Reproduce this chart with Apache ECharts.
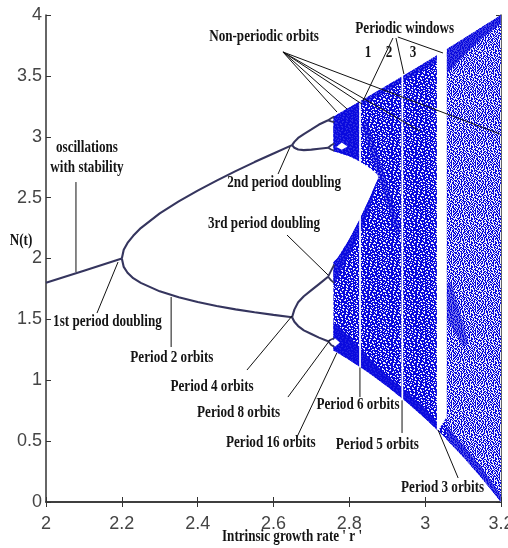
<!DOCTYPE html>
<html><head><meta charset="utf-8">
<script src="https://cdn.jsdelivr.net/npm/echarts@6/dist/echarts.min.js"></script>
<style>html,body{margin:0;padding:0;background:#fff}#c{width:508px;height:548px}</style>
</head><body><div id="c"></div>
<script>
// ---------------- data ----------------
const xTicks = [2, 2.2, 2.4, 2.6, 2.8, 3, 3.2];
const yTicks = [0, 0.5, 1, 1.5, 2, 2.5, 3, 3.5, 4];

// period 1
const period1R = [2.0, 2.1, 2.2];
const period1N = [1.8, 1.9, 2.0];
// period 2
const period2R     = [2.2, 2.205, 2.215, 2.23, 2.25, 2.3, 2.35, 2.4, 2.45, 2.5, 2.55, 2.6, 2.649];
const period2Upper = [2.0, 2.072, 2.128, 2.186, 2.25, 2.37, 2.469, 2.558, 2.64, 2.718, 2.792, 2.863, 2.931];
const period2Lower = [2.0, 1.931, 1.883, 1.838, 1.8, 1.73, 1.681, 1.642, 1.61, 1.582, 1.558, 1.537, 1.518];
// period 4
const period4R = [2.649, 2.655, 2.665, 2.68, 2.7, 2.72, 2.744];
const period4A = [2.931, 2.958, 2.99, 3.022, 3.06, 3.1, 3.135];
const period4B = [2.931, 2.91, 2.895, 2.89, 2.894, 2.902, 2.91];
const period4C = [1.518, 1.58, 1.64, 1.69, 1.74, 1.79, 1.85];
const period4D = [1.518, 1.48, 1.445, 1.41, 1.38, 1.35, 1.32];
// period 8
const period8R  = [2.744, 2.752, 2.76];
const period8A1 = [3.135, 3.152, 3.165];
const period8A2 = [3.135, 3.126, 3.12];
const period8B1 = [2.91, 2.93, 2.945];
const period8B2 = [2.91, 2.895, 2.885];
const period8C1 = [1.85, 1.9, 1.95];
const period8C2 = [1.85, 1.82, 1.80];
const period8D1 = [1.32, 1.335, 1.345];
const period8D2 = [1.32, 1.29, 1.275];

// chaotic band envelope
const chaosR      = [2.758, 2.77, 2.8, 2.85, 2.9, 2.95, 3.0, 3.05, 3.1, 3.15, 3.2];
const chaosTop    = [3.165, 3.186, 3.24, 3.331, 3.423, 3.516, 3.61, 3.706, 3.803, 3.901, 4.0];
const chaosBottom = [1.245, 1.223, 1.166, 1.064, 0.949, 0.824, 0.686, 0.535, 0.371, 0.193, 0.0];
// two-band region (white bay between the bands)
const bandR         = [2.758, 2.77, 2.8, 2.825, 2.85, 2.87, 2.8785];
const bandUpperLow  = [2.88, 2.87, 2.839, 2.801, 2.751, 2.702, 2.6785];
const bandLowerHigh = [1.97, 2.009, 2.161, 2.309, 2.473, 2.615, 2.6785];
// lighter chaotic part after the period-3 window
const lightR      = [3.057, 3.1, 3.15, 3.2];
const lightTop    = [3.72, 3.803, 3.901, 4.0];
const lightBottom = [0.512, 0.371, 0.193, 0.0];

// dense parts
const denseUpperBand = [[2.758,3.165],[2.77,3.186],[2.8,3.24],[2.826,3.288],[2.826,2.80],[2.8,2.839],[2.77,2.87],[2.758,2.88]];
const denseLowerTop  = [[2.758,1.97],[2.77,2.009],[2.8,2.161],[2.825,2.309],[2.85,2.473],[2.87,2.615],[2.8785,2.6785],[2.86,2.47],[2.835,2.25],[2.8,2.03],[2.78,1.92],[2.77,1.84],[2.758,1.78]];
const denseBottom    = [[2.758,1.245],[2.77,1.223],[2.8,1.166],[2.85,1.064],[2.9,0.949],[2.95,0.824],[3.0,0.686],[3.031,0.595],[3.031,0.66],[3.0,0.77],[2.95,0.91],[2.9,1.04],[2.85,1.19],[2.8,1.36],[2.77,1.45],[2.758,1.47]];
const denseBottomRight = [[3.057,0.512],[3.1,0.371],[3.15,0.193],[3.2,0.0],[3.2,0.06],[3.15,0.28],[3.1,0.47],[3.057,0.62]];
const denseTop       = [[2.826,3.288],[2.85,3.331],[2.9,3.423],[2.95,3.516],[3.0,3.61],[3.031,3.668],[3.031,3.61],[3.0,3.555],[2.95,3.465],[2.9,3.375],[2.85,3.285],[2.826,3.24]];
const denseTopRight  = [[3.057,3.72],[3.1,3.803],[3.15,3.901],[3.2,4.0],[3.2,3.93],[3.15,3.81],[3.1,3.66],[3.057,3.52]];
const denseStreak    = [[2.831,3.10],[2.845,3.14],[2.893,2.70],[2.935,2.22],[2.925,2.2],[2.879,2.64]];
const denseRightBlob = [[3.057,1.8],[3.07,1.8],[3.115,1.3],[3.1,1.28],[3.057,1.5]];

// periodic windows and period-8 gaps (white)
const window1 = [[2.826,1.09],[2.826,3.31],[2.8305,3.32],[2.8305,1.09]];
const window2 = [[2.9375,0.82],[2.9375,3.53],[2.942,3.54],[2.942,0.82]];
const window3 = [[3.031,3.70],[3.057,3.75],[3.057,0.70],[3.034,0.585],[3.031,0.60]];
const gapUpper = [[2.766,2.915],[2.78,2.952],[2.795,2.92],[2.78,2.893]];
const gapLower = [[2.752,1.31],[2.762,1.345],[2.775,1.31],[2.762,1.275]];

// annotations
const annotText = ['oscillations','with stability','1st period doubling','Period 2 orbits','2nd period doubling',
  '3rd period doubling','Period 4 orbits','Period 8 orbits','Period 16 orbits','Period 6 orbits','Period 5 orbits',
  'Period 3 orbits','Non-periodic orbits','Periodic windows','1','2','3',"Intrinsic growth rate ' r '",'N(t)'];
const annotR = [2.108,2.108,2.162,2.332,2.628,2.575,2.438,2.508,2.593,2.823,2.874,3.046,2.575,2.946,2.849,2.905,2.968,2.6488,1.934];
const annotN = [2.908,2.743,1.478,1.183,2.62,2.283,0.945,0.731,0.485,0.797,0.468,0.115,3.819,3.885,3.688,3.688,3.688,-0.287,2.144];

const leaders = [
  [2.079,2.628,2.079,1.889],
  [2.1345,1.552,2.19,1.971],
  [2.33,1.684,2.33,1.273],
  [2.6435,2.916,2.612,2.694],
  [2.6356,2.193,2.744,1.864],
  [2.530,1.084,2.649,1.528],
  [2.638,0.862,2.749,1.331],
  [2.662,0.534,2.767,1.224],
  [2.828,0.862,2.828,1.105],
  [2.939,0.567,2.939,0.835],
  [3.087,0.197,3.034,0.591],
  [2.625,3.696,2.7675,3.203],
  [2.625,3.696,2.794,3.228],
  [2.625,3.696,2.833,3.269],
  [2.625,3.696,2.986,3.047],
  [2.625,3.696,3.197,3.023],
  [2.915,3.811,2.836,3.294],
  [2.923,3.811,2.944,3.515],
  [2.928,3.819,3.047,3.688]
];

// ---------------- styles ----------------
const BLUE = '#0a0ade';
const tileDense = [
"..##......#....##.....#.","..#...##..##....#..##...","#.....#.......#.....#..#","##..#....##..###.......#",
"....##...#.......##..#..",".#.......#..#....#..##..",".##..##.....##.#.......#","......#..#...#....##....",
"..#.......##.....#.#..#.","..##..#...#..##.......##","#....##.......#...##....","#.#......#.#.....#....#.",
"...##...##.....#....#...",".#..#.......##.##...##..","...........#......#....#","##..#.##.....#.....##..#",
".#....#..##..##.#.......","...##......#......#.##..","#...#..#.......##....#..","..#....##..#.#......#..#",
".##.#.......#...#.#.....","......##..#....##...##..",".#.#...#..##.......#...#","#....#.....#..#.#....#.."];
const tileLight = [
"#.##.#..#.#.#.###..#.#.#",".##..##.###...#.##.##..#","#...###.#..##.#..#...###","##.#..#..##.###..#.#..#.",
"..#.##.#.#..#...###.##..",".##..#..##.##.#..#..##.#","#.#.###..#..##.##.#...##","..##..#.#.#..#..#.###..#",
"#.#..#..##.###.#..#.#.#.",".##.#.#...#..##.##...##.","#...##.#.#.#..#.#.##..#.","#.##..#..#.##..#.#..#.##",
".#.##.#.##..#.#..#.#.#..",".#..#..#..#.##.##..##.#.","#.#.#.##.#.#..#..#.#..##","##..#.##..#..#.#..##..#.",
".#.#..#..##..##.#.#.#..#","#..##.#.#..#.#..#.#.##..","#.#.#..#.#..#.##.#..#.#.","..#..#.##.##.#.#..#.#..#",
".##.#..#.#..#...#.#.#.#.","#..#..##..#.#.##.#..##..",".#.#.#.#.###..#...#.#..#","#..#.#..#..#..#.#.#.#.#."];
function makeTile(rows){
  const n = rows.length;
  const c=document.createElement('canvas'); c.width=n; c.height=n;
  const g=c.getContext('2d'); g.fillStyle=BLUE; g.fillRect(0,0,n,n);
  g.fillStyle='#eeeef8';
  rows.forEach((row,y)=>{for(let x=0;x<row.length;x++) if(row[x]==='#') g.fillRect(x,y,1,1);});
  return {image:c, repeat:'repeat'};
}
const patDense = makeTile(tileDense);
const patLight = makeTile(tileLight);

const pair = (rs, ns) => rs.map((r,i)=>[r, ns[i]]);
const chaosOutline = [
  ...pair(chaosR, chaosTop),
  ...pair(chaosR, chaosBottom).reverse(),
  ...pair(bandR, bandLowerHigh),
  ...pair(bandR, bandUpperLow).reverse().slice(1)
];
const lightOutline = [...pair(lightR, lightTop), ...pair(lightR, lightBottom).reverse()];

const polys = [
  {pts: chaosOutline, fill: patDense, op: 1},
  {pts: lightOutline, fill: patLight, op: 1},
  {pts: denseUpperBand, fill: BLUE, op: 0.85},
  {pts: denseLowerTop, fill: BLUE, op: 0.8},
  {pts: denseBottom, fill: BLUE, op: 0.9},
  {pts: denseBottomRight, fill: BLUE, op: 0.7},
  {pts: denseTop, fill: BLUE, op: 0.7},
  {pts: denseTopRight, fill: BLUE, op: 0.75},
  {pts: denseStreak, fill: BLUE, op: 0.5},
  {pts: denseRightBlob, fill: BLUE, op: 0.5},
  {pts: window1, fill: '#fff', op: 1},
  {pts: window2, fill: '#fff', op: 1},
  {pts: window3, fill: '#fff', op: 1},
  {pts: gapUpper, fill: '#fff', op: 1},
  {pts: gapLower, fill: '#fff', op: 1}
];

const branchLines = [
  [period1R, period1N], [period2R, period2Upper], [period2R, period2Lower],
  [period4R, period4A], [period4R, period4B], [period4R, period4C], [period4R, period4D],
  [period8R, period8A1], [period8R, period8A2], [period8R, period8B1], [period8R, period8B2],
  [period8R, period8C1], [period8R, period8C2], [period8R, period8D1], [period8R, period8D2]
];

const FONT = 'bold 16px "Liberation Serif", "Times New Roman", serif';

const series = [];
series.push({
  type:'custom', coordinateSystem:'cartesian2d', silent:true, z:2, clip:false,
  data: polys.map(p=>p.pts[0]),
  renderItem:(params, api)=>{
    const p = polys[params.dataIndex];
    return {type:'polygon', shape:{points:p.pts.map(q=>api.coord(q))}, style:{fill:p.fill, stroke:null, opacity:p.op}};
  }
});
branchLines.forEach(([rs, ns], i)=>{
  series.push({
    type:'line', data: pair(rs, ns), showSymbol:false, symbol:'none', silent:true, z:3,
    lineStyle:{color:'#35355e', width: i>=7 ? 1.8 : 2.1}, smooth:false
  });
});
series.push({
  type:'custom', coordinateSystem:'cartesian2d', silent:true, z:4, clip:false,
  data: leaders.map(l=>[l[0], l[1]]),
  renderItem:(params, api)=>{
    const l = leaders[params.dataIndex];
    const a = api.coord([l[0], l[1]]), b = api.coord([l[2], l[3]]);
    return {type:'line', shape:{x1:a[0], y1:a[1], x2:b[0], y2:b[1]}, style:{stroke:'#111', lineWidth:1}};
  }
});
series.push({
  type:'custom', coordinateSystem:'cartesian2d', silent:true, z:5, clip:false,
  data: annotR.map((r,i)=>[r, annotN[i]]),
  renderItem:(params, api)=>{
    const i = params.dataIndex;
    const p = api.coord([annotR[i], annotN[i]]);
    return {type:'text', x:p[0], y:p[1], scaleX:0.82,
      style:{text:annotText[i], font:FONT, fill:'#141414', align:'center', verticalAlign:'middle'}};
  }
});

const axisLineStyle = {color:'#333', width:1.5};
const option = {
  animation:false,
  backgroundColor:'#fff',
  grid:{left:46, right:7, top:15, bottom:46, containLabel:false, outerBoundsMode:'none'},
  xAxis:[
    {type:'value', min:2, max:3.2, interval:0.2, position:'bottom',
     axisLine:{show:true, lineStyle:axisLineStyle},
     axisTick:{show:true, inside:true, length:5, customValues:xTicks, lineStyle:{color:'#333'}},
     axisLabel:{customValues:xTicks, fontSize:18, color:'#454545', margin:13,
       fontFamily:'"Liberation Sans Narrow", "Liberation Sans", sans-serif'},
     splitLine:{show:false}},
    {type:'value', min:2, max:3.2, interval:0.2, position:'top',
     axisLine:{show:true, lineStyle:axisLineStyle},
     axisTick:{show:true, inside:true, length:5, customValues:xTicks, lineStyle:{color:'#333'}},
     axisLabel:{show:false}, splitLine:{show:false}}
  ],
  yAxis:[
    {type:'value', min:0, max:4, interval:0.5, position:'left',
     axisLine:{show:true, lineStyle:axisLineStyle},
     axisTick:{show:true, inside:true, length:5, customValues:yTicks, lineStyle:{color:'#333'}},
     axisLabel:{customValues:yTicks, fontSize:18, color:'#454545', margin:4,
       fontFamily:'"Liberation Sans", sans-serif'},
     splitLine:{show:false}},
    {type:'value', min:0, max:4, interval:0.5, position:'right',
     axisLine:{show:true, lineStyle:axisLineStyle},
     axisTick:{show:true, inside:true, length:5, customValues:yTicks, lineStyle:{color:'#333'}},
     axisLabel:{show:false}, splitLine:{show:false}}
  ],
  series: series
};
const chart = echarts.init(document.getElementById('c'));
chart.setOption(option);
</script>
</body></html>
